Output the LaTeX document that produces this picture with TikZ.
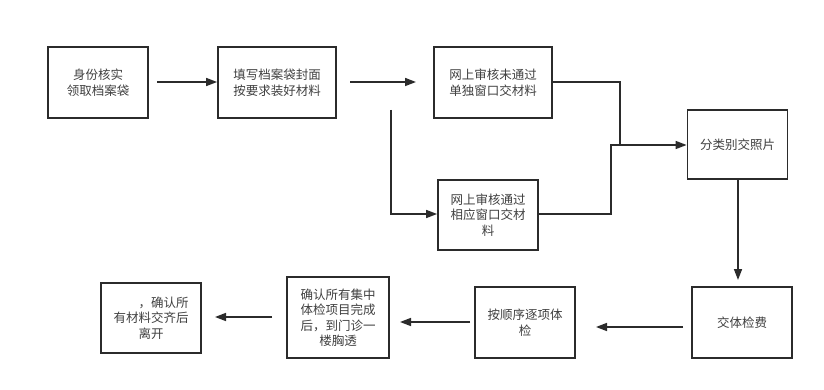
\documentclass[tikz,border=0pt]{standalone}
\usepackage{fontspec}
\setmainfont{Noto Sans CJK SC}
\usetikzlibrary{arrows.meta}
\definecolor{boxline}{HTML}{2B2B2B}
\definecolor{txt}{HTML}{404040}
\tikzset{
  box/.style={draw=boxline, line width=1.8pt, rectangle, inner sep=0pt, align=center,
    text=txt, font=\fontsize{12.5pt}{15.5pt}\selectfont},
  conn/.style={draw=boxline, line width=1.6pt},
  arr/.style={conn, -{Triangle[length=11pt,width=8pt]}}
}
\begin{document}
\begin{tikzpicture}[x=1pt,y=-1pt]
\useasboundingbox[fill=white] (0,0) rectangle (824,390);
\node[box, minimum width=100pt, minimum height=71pt] (b1) at (98,82.5) {身份核实\\领取档案袋};
\node[box, minimum width=118pt, minimum height=71pt] (b2) at (277,82.5) {填写档案袋封面\\按要求装好材料};
\node[box, minimum width=118pt, minimum height=71pt] (b3) at (493,82.5) {网上审核未通过\\单独窗口交材料};
\node[box, minimum width=100pt, minimum height=70pt] (b4) at (488,215) {网上审核通过\\相应窗口交材\\料};
\node[box, minimum width=100pt, minimum height=69pt] (b5) at (737.5,144.5) {分类别交照片};
\node[box, minimum width=100pt, minimum height=71pt] (b6) at (742,322.5) {交体检费};
\node[box, minimum width=100pt, minimum height=71pt] (b7) at (525,322.5) {按顺序逐项体\\检};
\node[box, minimum width=102pt, minimum height=81pt] (b8) at (338,317.5) {确认所有集中\\体检项目完成\\后，到门诊一\\楼胸透};
\node[box, minimum width=100pt, minimum height=70pt] (b9) at (151,318) {\hspace*{2em}，确认所\\有材料交齐后\\离开};

\coordinate (s1) at (157,82);
\coordinate (s2) at (350,82);
\coordinate (e2) at (416,82);
\coordinate (v1) at (391,110);
\coordinate (v2) at (391,214);
\coordinate (j3) at (620,82);
\coordinate (j4) at (611,214);
\coordinate (m) at (611,145);
\coordinate (m3) at (620,145);
\coordinate (e5) at (738,280);
\coordinate (s6) at (683,327);
\coordinate (e6) at (596,327);
\coordinate (s7) at (470,322);
\coordinate (e7) at (400,322);
\coordinate (s8) at (272,317);
\coordinate (e8) at (215,317);

\draw[arr] (s1) -- (b2.west |- s1);
\draw[arr] (s2) -- (e2);
\draw[arr] (v1) -- (v2) -- (b4.west |- v2);
\draw[conn] (b3.east |- j3) -- (j3) -- (m3);
\draw[arr] (b4.east |- j4) -- (j4) -- (m) -- (b5.west |- m);
\draw[arr] (b5.south -| e5) -- (e5);
\draw[arr] (s6) -- (e6);
\draw[arr] (s7) -- (e7);
\draw[arr] (s8) -- (e8);
\end{tikzpicture}
\end{document}
